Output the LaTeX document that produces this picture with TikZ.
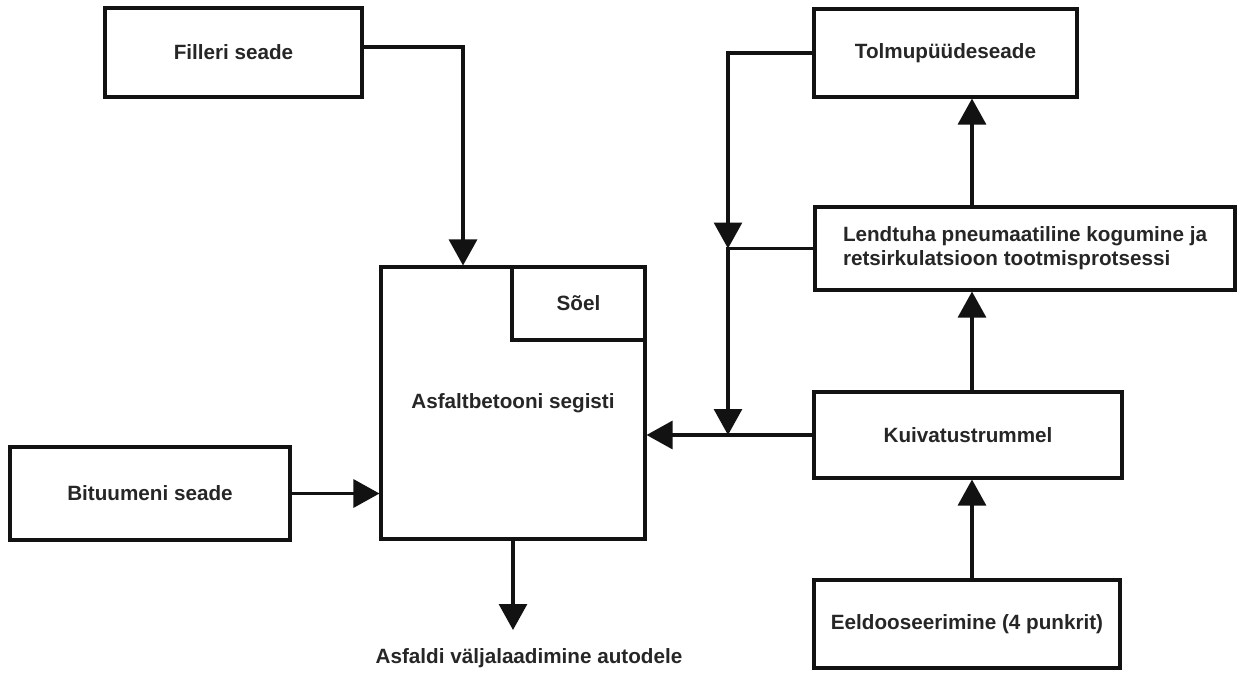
\documentclass[tikz,border=0pt]{standalone}
\usepackage{fontspec}
\setmainfont{Liberation Sans}
\usetikzlibrary{arrows.meta}
\begin{document}
\begin{tikzpicture}[x=0.75pt,y=-0.75pt,
  box/.style={draw=black!93,line width=2.3pt,rectangle,inner sep=0pt,font=\bfseries\fontsize{15.5}{18}\selectfont,text=black!85},
  arr/.style={draw=black!93,line width=2.3pt,-{Triangle[length=19.5pt,width=21pt]}},
  ln/.style={draw=black!93,line width=2.3pt}]
\useasboundingbox (0,0) rectangle (1240,672);
\node[box,minimum width=257*0.75pt,minimum height=89*0.75pt] (fil) at (233.5,52.5) {Filleri seade};
\node[box,minimum width=263*0.75pt,minimum height=88*0.75pt] (tol) at (945.5,53) {Tolmupüüdeseade};
\node[box,minimum width=420*0.75pt,minimum height=83*0.75pt,align=left] (len) at (1025,248.5) {Lendtuha pneumaatiline kogumine ja\\retsirkulatsioon tootmisprotsessi};
\node[box,minimum width=308*0.75pt,minimum height=86*0.75pt] (kui) at (968,435) {Kuivatustrummel};
\node[box,minimum width=306*0.75pt,minimum height=88*0.75pt] (eel) at (967,624) {Eeldooseerimine (4 punkrit)};
\node[box,minimum width=280*0.75pt,minimum height=93*0.75pt] (bit) at (150,493.5) {Bituumeni seade};
\node[box,minimum width=264*0.75pt,minimum height=272*0.75pt] (mix) at (513,403) {Asfaltbetooni segisti};
\node[box,minimum width=133*0.75pt,minimum height=73*0.75pt] (soe) at (578.5,303.5) {Sõel};
\node[font=\bfseries\fontsize{15.5}{18}\selectfont,text=black!85,inner sep=0pt] (asf) at (529,658) {Asfaldi väljalaadimine autodele};
\coordinate (fj) at (463,47);
\coordinate (tj) at (728,53);
\coordinate (vx) at (972,0);
\coordinate (out) at (513,630);
% connectors
\draw[arr] (fil.east |- fj) -- (fj) -- (mix.north -| fj);
\draw[arr] (bit.east) -- (bit.east -| mix.west);
\draw[arr] (kui.west) -- (kui.west -| mix.east);
\draw[arr] (tol.west) -- (tj) -- (len.west -| tj);
\draw[arr] (len.west) -- (len.west -| tj) -- (kui.west -| tj);
\draw[arr] (eel.north -| vx) -- (kui.south -| vx);
\draw[arr] (kui.north -| vx) -- (len.south -| vx);
\draw[arr] (len.north -| vx) -- (tol.south -| vx);
\draw[arr] (mix.south) -- (out);
\end{tikzpicture}
\end{document}
